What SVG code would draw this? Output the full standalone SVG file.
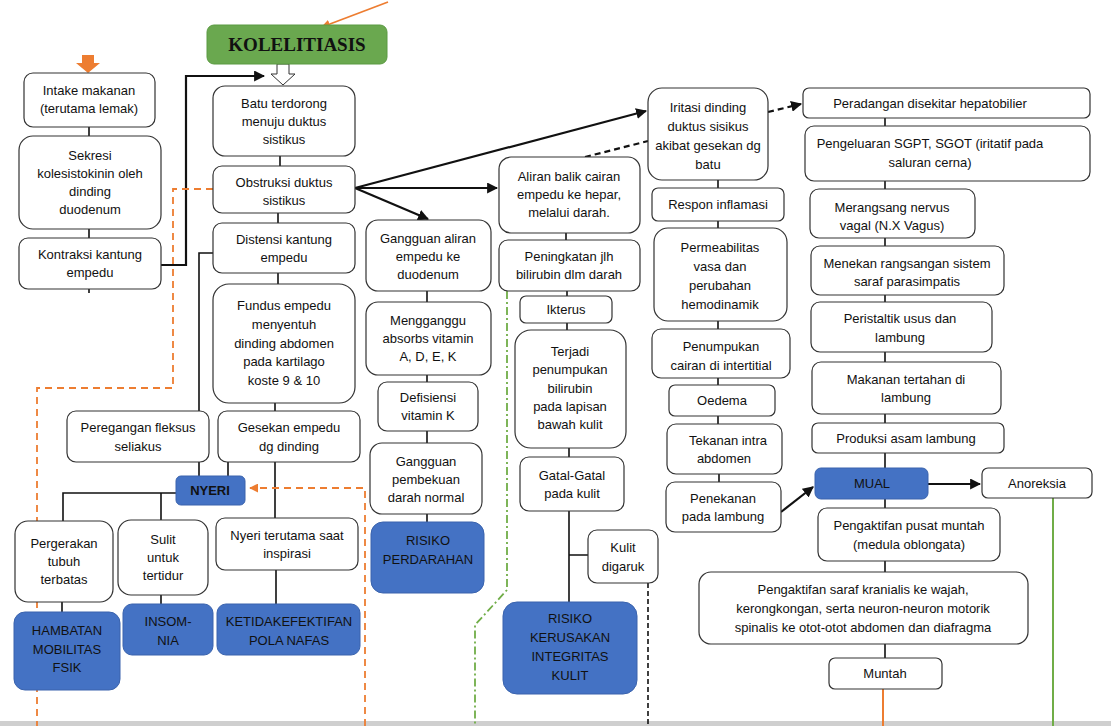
<svg xmlns="http://www.w3.org/2000/svg" width="1111" height="726" viewBox="0 0 1111 726">
<defs>
<style>
.b{fill:#fff;stroke:#333;stroke-width:1.2}
.k{fill:#4472c4;stroke:#3a63ad;stroke-width:1}
text{font-family:"Liberation Sans",Arial,sans-serif;font-size:13px;fill:#111;text-anchor:middle}
.c{fill:none;stroke:#111;stroke-width:1.6}
.t{fill:none;stroke:#111;stroke-width:2.2}
.o{fill:none;stroke:#ed7d31;stroke-width:1.8;stroke-dasharray:7,5}
</style>
<marker id="a" viewBox="0 0 10 10" refX="9" refY="5" markerWidth="5" markerHeight="5" orient="auto"><path d="M0,0L10,5L0,10z" fill="#111"/></marker>
<marker id="ao" viewBox="0 0 10 10" refX="9" refY="5" markerWidth="5" markerHeight="5" orient="auto"><path d="M0,0L10,5L0,10z" fill="#ed7d31"/></marker>
</defs>
<rect width="1111" height="726" fill="#fff"/>
<rect x="0" y="721" width="1111" height="5" fill="#cfcfcf"/>
<g id="connectors">
<line x1="388" y1="2" x2="322" y2="27" stroke="#ed7d31" stroke-width="1.8" marker-end="url(#ao)"/>
<path d="M82,55h12v8h6l-12,10l-12,-10h6z" fill="#ed7d31"/>
<path d="M277,64h12v10h6l-12,11l-12,-11h6z" fill="#fff" stroke="#333" stroke-width="1"/>
<path class="c" d="M89,127V136M89,229V238M89,289V293M280,156V166M278,213V223M278,273V284M275,403V411M427,291V302M427,375V382M427,431V443M427,514V522M566,233V240M567,291V296M567,323V330M569,448V457M718,180V188M718,221V228M718,321V329M718,378V385M718,416V424M719,474V482M885,118V126M885,181V189M885,238V246M885,295V302M885,352V362M885,414V423M885,453V468M885,499V508M885,561V572M885,644V658"/>
<path class="t" d="M161,265H186V76H264" marker-end="url(#a)"/>
<path class="c" d="M213,253H199V411M199,462V476M228,462V476M275,462V518M176,493H63V521M161,493V520M62,602V612M161,595V604M276,570V604M569,511V602M569,555H588"/>
<path class="t" d="M355,188L646,111" marker-end="url(#a)"/>
<path class="t" d="M355,188H497" marker-end="url(#a)"/>
<path class="t" d="M355,188L428,219" marker-end="url(#a)"/>
<path class="t" d="M585,157L648,141" stroke-dasharray="6,4"/>
<path class="t" d="M768,112L801,104" stroke-dasharray="6,4" marker-end="url(#a)"/>
<path class="c" d="M648,583V726" stroke-dasharray="5,3" stroke-width="2"/>
<path class="t" d="M781,512L813,487" marker-end="url(#a)"/>
<path class="t" d="M928,484H980" marker-end="url(#a)"/>
<path class="o" d="M213,189H173V388H37V726"/>
<path class="o" d="M365,726V488H250" marker-end="url(#ao)"/>
<path d="M507,291V590L475,625V726" fill="none" stroke="#70ad47" stroke-width="1.8" stroke-dasharray="8,3,2,3"/>
<line x1="1053" y1="498" x2="1053" y2="726" stroke="#70ad47" stroke-width="2"/>
<line x1="883" y1="689" x2="883" y2="726" stroke="#ed7d31" stroke-width="2"/>
<path class="c" d="M670,265V238M678,452V430M829,448V428M838,318V343" marker-end="url(#a)"/>
</g>
<g id="kolelitiasis"><rect x="207" y="25" width="180" height="39" rx="7" fill="#6aa84f" stroke="#5b9a42"/><text x="297" y="51" style="font-family:'Liberation Serif',serif;font-weight:bold;font-size:19px">KOLELITIASIS</text></g>
<g id="intake"><rect class="b" x="24" y="73" width="131" height="54" rx="9"/><text x="89" y="95">Intake makanan<tspan x="89" y="113">(terutama lemak)</tspan></text></g>
<g id="sekresi"><rect class="b" x="19" y="136" width="142" height="93" rx="14"/><text x="90" y="160">Sekresi<tspan x="90" y="178">kolesistokinin oleh</tspan><tspan x="90" y="196">dinding</tspan><tspan x="90" y="214">duodenum</tspan></text></g>
<g id="kontraksi"><rect class="b" x="19" y="238" width="142" height="51" rx="9"/><text x="90" y="259">Kontraksi kantung<tspan x="90" y="277">empedu</tspan></text></g>
<g id="batu"><rect class="b" x="213" y="86" width="142" height="70" rx="12"/><text x="284" y="108">Batu terdorong<tspan x="284" y="126">menuju duktus</tspan><tspan x="284" y="144">sistikus</tspan></text></g>
<g id="obstruksi"><rect class="b" x="213" y="166" width="142" height="47" rx="9"/><text x="284" y="187">Obstruksi duktus<tspan x="284" y="205">sistikus</tspan></text></g>
<g id="distensi"><rect class="b" x="213" y="223" width="142" height="50" rx="9"/><text x="284" y="244">Distensi kantung<tspan x="284" y="262">empedu</tspan></text></g>
<g id="fundus"><rect class="b" x="213" y="284" width="142" height="119" rx="16"/><text x="284" y="310">Fundus empedu<tspan x="284" y="329">menyentuh</tspan><tspan x="284" y="348">dinding abdomen</tspan><tspan x="284" y="366">pada kartilago</tspan><tspan x="284" y="385">koste 9 &amp; 10</tspan></text></g>
<g id="peregangan"><rect class="b" x="67" y="411" width="142" height="51" rx="9"/><text x="138" y="432">Peregangan fleksus<tspan x="138" y="451">seliakus</tspan></text></g>
<g id="gesekan"><rect class="b" x="218" y="411" width="142" height="51" rx="9"/><text x="289" y="432">Gesekan empedu<tspan x="289" y="451">dg dinding</tspan></text></g>
<g id="nyeri"><rect class="k" x="176" y="476" width="69" height="29" rx="5"/><text x="210" y="495" style="font-weight:bold">NYERI</text></g>
<g id="pergerakan"><rect class="b" x="15" y="521" width="98" height="81" rx="13"/><text x="64" y="548">Pergerakan<tspan x="64" y="566">tubuh</tspan><tspan x="64" y="584">terbatas</tspan></text></g>
<g id="sulit"><rect class="b" x="118" y="520" width="90" height="75" rx="13"/><text x="163" y="544">Sulit<tspan x="163" y="562">untuk</tspan><tspan x="163" y="580">tertidur</tspan></text></g>
<g id="nyeri-inspirasi"><rect class="b" x="216" y="518" width="142" height="52" rx="9"/><text x="287" y="540">Nyeri terutama saat<tspan x="287" y="558">inspirasi</tspan></text></g>
<g id="hambatan"><rect class="k" x="14" y="612" width="106" height="78" rx="11"/><text x="67" y="635">HAMBATAN<tspan x="67" y="654">MOBILITAS</tspan><tspan x="67" y="672">FSIK</tspan></text></g>
<g id="insomnia"><rect class="k" x="123" y="604" width="90" height="51" rx="9"/><text x="168" y="626">INSOM-<tspan x="168" y="645">NIA</tspan></text></g>
<g id="ketidakefektifan"><rect class="k" x="217" y="604" width="143" height="51" rx="9"/><text x="289" y="626">KETIDAKEFEKTIFAN<tspan x="289" y="645">POLA NAFAS</tspan></text></g>
<g id="gangguan-aliran"><rect class="b" x="366" y="220" width="125" height="71" rx="12"/><text x="428" y="243">Gangguan aliran<tspan x="428" y="261">empedu ke</tspan><tspan x="428" y="279">duodenum</tspan></text></g>
<g id="mengganggu"><rect class="b" x="366" y="302" width="125" height="73" rx="12"/><text x="428" y="325">Mengganggu<tspan x="428" y="343">absorbs vitamin</tspan><tspan x="428" y="361">A, D, E, K</tspan></text></g>
<g id="defisiensi"><rect class="b" x="378" y="382" width="100" height="49" rx="9"/><text x="428" y="402">Defisiensi<tspan x="428" y="420">vitamin K</tspan></text></g>
<g id="pembekuan"><rect class="b" x="370" y="443" width="112" height="71" rx="12"/><text x="426" y="466">Gangguan<tspan x="426" y="484">pembekuan</tspan><tspan x="426" y="502">darah normal</tspan></text></g>
<g id="perdarahan"><rect class="k" x="371" y="522" width="113" height="71" rx="12"/><text x="428" y="545">RISIKO<tspan x="428" y="564">PERDARAHAN</tspan></text></g>
<g id="aliran-balik"><rect class="b" x="499" y="157" width="141" height="76" rx="12"/><text x="569" y="181">Aliran balik cairan<tspan x="569" y="199">empedu ke hepar,</tspan><tspan x="569" y="217">melalui darah.</tspan></text></g>
<g id="peningkatan"><rect class="b" x="499" y="240" width="141" height="51" rx="9"/><text x="569" y="261">Peningkatan jlh<tspan x="569" y="279">bilirubin dlm darah</tspan></text></g>
<g id="ikterus"><rect class="b" x="520" y="296" width="92" height="27" rx="6"/><text x="566" y="314">Ikterus</text></g>
<g id="terjadi"><rect class="b" x="515" y="330" width="111" height="118" rx="16"/><text x="570" y="356">Terjadi<tspan x="570" y="374">penumpukan</tspan><tspan x="570" y="393">bilirubin</tspan><tspan x="570" y="411">pada lapisan</tspan><tspan x="570" y="429">bawah kulit</tspan></text></g>
<g id="gatal"><rect class="b" x="520" y="457" width="104" height="54" rx="9"/><text x="572" y="480">Gatal-Gatal<tspan x="572" y="498">pada kulit</tspan></text></g>
<g id="digaruk"><rect class="b" x="588" y="530" width="70" height="53" rx="9"/><text x="623" y="552">Kulit<tspan x="623" y="571">digaruk</tspan></text></g>
<g id="kerusakan"><rect class="k" x="503" y="602" width="134" height="92" rx="14"/><text x="570" y="623">RISIKO<tspan x="570" y="642">KERUSAKAN</tspan><tspan x="570" y="661">INTEGRITAS</tspan><tspan x="570" y="680">KULIT</tspan></text></g>
<g id="iritasi"><rect class="b" x="648" y="88" width="120" height="92" rx="14"/><text x="708" y="112">Iritasi dinding<tspan x="708" y="131">duktus sisikus</tspan><tspan x="708" y="150">akibat gesekan dg</tspan><tspan x="708" y="169">batu</tspan></text></g>
<g id="respon"><rect class="b" x="652" y="188" width="132" height="33" rx="6"/><text x="718" y="209">Respon inflamasi</text></g>
<g id="permeabilitas"><rect class="b" x="654" y="228" width="133" height="93" rx="14"/><text x="720" y="252">Permeabilitas<tspan x="720" y="271">vasa dan</tspan><tspan x="720" y="290">perubahan</tspan><tspan x="720" y="309">hemodinamik</tspan></text></g>
<g id="penumpukan-cairan"><rect class="b" x="652" y="329" width="138" height="49" rx="9"/><text x="721" y="351">Penumpukan<tspan x="721" y="370">cairan di intertitial</tspan></text></g>
<g id="oedema"><rect class="b" x="669" y="385" width="106" height="31" rx="6"/><text x="722" y="405">Oedema</text></g>
<g id="tekanan"><rect class="b" x="667" y="424" width="115" height="50" rx="9"/><text x="728" y="445">Tekanan intra<tspan x="724" y="463">abdomen</tspan></text></g>
<g id="penekanan"><rect class="b" x="666" y="482" width="115" height="50" rx="9"/><text x="723" y="503">Penekanan<tspan x="723" y="521">pada lambung</tspan></text></g>
<g id="peradangan"><rect class="b" x="803" y="88" width="287" height="30" rx="6"/><text x="930" y="108">Peradangan disekitar hepatobilier</text></g>
<g id="pengeluaran"><rect class="b" x="805" y="126" width="285" height="55" rx="9"/><text x="930" y="148">Pengeluaran SGPT, SGOT (iritatif pada<tspan x="930" y="167">saluran cerna)</tspan></text></g>
<g id="merangsang"><rect class="b" x="810" y="189" width="165" height="49" rx="9"/><text x="892" y="212">Merangsang nervus<tspan x="892" y="230">vagal (N.X Vagus)</tspan></text></g>
<g id="menekan"><rect class="b" x="811" y="246" width="193" height="49" rx="9"/><text x="907" y="268">Menekan rangsangan sistem<tspan x="907" y="286">saraf parasimpatis</tspan></text></g>
<g id="peristaltik"><rect class="b" x="811" y="302" width="181" height="50" rx="9"/><text x="900" y="323">Peristaltik usus dan<tspan x="900" y="342">lambung</tspan></text></g>
<g id="makanan"><rect class="b" x="812" y="362" width="189" height="52" rx="9"/><text x="906" y="384">Makanan tertahan di<tspan x="906" y="402">lambung</tspan></text></g>
<g id="produksi"><rect class="b" x="812" y="423" width="192" height="30" rx="6"/><text x="906" y="443">Produksi asam lambung</text></g>
<g id="mual"><rect class="k" x="815" y="468" width="113" height="31" rx="6"/><text x="872" y="488">MUAL</text></g>
<g id="anoreksia"><rect class="b" x="982" y="468" width="110" height="30" rx="6"/><text x="1037" y="488">Anoreksia</text></g>
<g id="pusat-muntah"><rect class="b" x="818" y="508" width="182" height="53" rx="9"/><text x="909" y="530">Pengaktifan pusat muntah<tspan x="909" y="549">(medula oblongata)</tspan></text></g>
<g id="saraf-kranialis"><rect class="b" x="699" y="572" width="329" height="72" rx="12"/><text x="863" y="594">Pengaktifan saraf kranialis ke wajah,<tspan x="863" y="613">kerongkongan, serta neuron-neuron motorik</tspan><tspan x="863" y="632">spinalis ke otot-otot abdomen dan diafragma</tspan></text></g>
<g id="muntah"><rect class="b" x="829" y="658" width="113" height="31" rx="6"/><text x="885" y="678">Muntah</text></g>
</svg>
